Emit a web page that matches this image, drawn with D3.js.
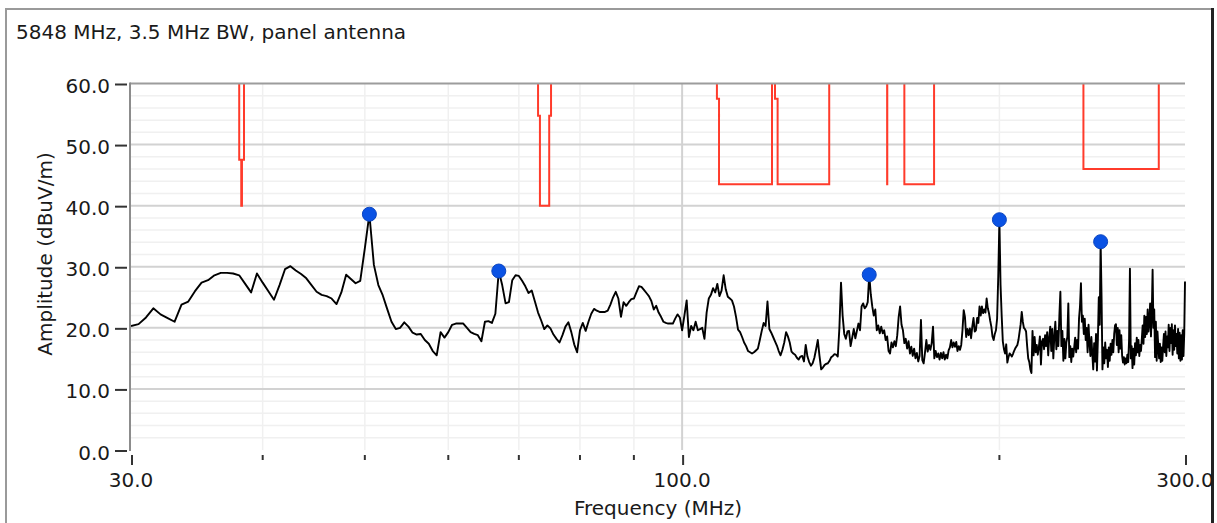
<!DOCTYPE html>
<html>
<head>
<meta charset="utf-8">
<script src="https://cdn.jsdelivr.net/npm/d3@7"></script>
<style>
  html, body { margin: 0; padding: 0; background: #ffffff; }
  svg { display: block; }
  text { font-family: "DejaVu Sans", Verdana, sans-serif; fill: #1a1a1a; }
</style>
</head>
<body>
<svg id="chart" width="1217" height="523"></svg>
<script>
// ---- Labels ----
const titleText = "5848 MHz, 3.5 MHz BW, panel antenna";
const xTitle = "Frequency (MHz)";
const yTitle = "Amplitude (dBuV/m)";

// ---- Axis ticks ----
const xMajorTicks = [30, 100, 300];
const xMajorLabels = ["30.0", "100.0", "300.0"];
const xMinorTicks = [40, 50, 60, 70, 80, 90, 200];
const yTicks = [0, 10, 20, 30, 40, 50, 60];
const yTickLabels = ["0.0", "10.0", "20.0", "30.0", "40.0", "50.0", "60.0"];
const yMinorStep = 2;

// ---- Measured sweep (dBuV/m), 0.5 MHz per point, one row per 10 MHz ----
const sweepStep = 0.5;
const traceRowStart = [30, 40, 50, 60, 70, 80, 90, 100, 110, 120, 130, 140, 150, 160, 170, 180,
                       190, 200, 210, 220, 230, 240, 250, 260, 270, 280, 290];
const traceRows = [
  [20.3, 20.6, 21.7, 23.2, 22.2, 21.6, 21.0, 23.8, 24.3, 26.0, 27.4, 27.8, 28.6, 29.0, 29.0, 28.9, 28.6, 27.2, 25.8, 28.9],
  [27.4, 26.0, 24.6, 27.0, 29.6, 30.1, 29.4, 28.8, 28.1, 27.0, 25.9, 25.4, 25.2, 24.8, 23.9, 25.8, 28.7, 28.0, 27.3, 27.7],
  [33.0, 38.6, 30.3, 27.0, 25.3, 23.1, 21.0, 19.8, 20.0, 20.9, 20.2, 19.2, 18.9, 19.0, 18.0, 17.4, 16.2, 15.5, 19.3, 18.4],
  [19.3, 20.5, 20.7, 20.7, 20.7, 20.0, 19.3, 19.0, 18.8, 17.8, 21.0, 21.1, 20.8, 22.3, 29.3, 27.0, 24.0, 24.2, 27.8, 28.6],
  [28.5, 27.7, 26.8, 25.7, 26.1, 24.3, 22.5, 21.2, 19.8, 20.4, 19.9, 18.9, 18.2, 17.6, 18.8, 20.2, 20.9, 19.3, 17.3, 16.0],
  [19.6, 20.8, 19.5, 21.0, 22.3, 23.1, 22.8, 22.6, 22.6, 22.6, 22.8, 23.8, 25.0, 25.9, 24.8, 21.8, 24.2, 23.6, 24.2, 24.7],
  [24.8, 25.8, 26.8, 26.7, 26.2, 25.7, 25.2, 24.4, 23.0, 23.6, 22.5, 21.8, 21.0, 20.8, 20.7, 20.7, 20.7, 21.5, 22.2, 21.7],
  [19.6, 22.0, 24.5, 18.5, 20.3, 19.6, 21.0, 19.6, 19.8, 20.0, 18.2, 22.5, 24.8, 25.4, 26.5, 25.8, 27.2, 25.2, 26.1, 28.6],
  [26.3, 25.1, 24.8, 24.5, 23.5, 21.8, 19.7, 19.3, 18.5, 17.6, 17.0, 16.2, 16.0, 15.8, 16.0, 16.3, 16.6, 18.0, 19.5, 20.8],
  [20.3, 24.3, 19.8, 19.2, 18.5, 17.8, 17.1, 16.2, 15.5, 16.4, 17.6, 19.3, 18.6, 17.6, 16.1, 15.8, 15.6, 15.1, 14.8, 15.3],
  [15.4, 14.5, 17.2, 15.3, 14.4, 13.8, 14.2, 15.1, 16.5, 18.0, 15.4, 13.2, 13.5, 13.9, 14.1, 14.2, 14.6, 15.2, 15.4, 15.7],
  [15.6, 15.3, 20.0, 27.4, 22.0, 19.0, 18.2, 19.4, 19.5, 17.0, 18.4, 19.8, 18.3, 19.5, 20.7, 19.6, 23.5, 24.0, 23.2, 23.5],
  [24.2, 28.7, 25.5, 23.5, 22.0, 23.0, 19.6, 20.4, 19.1, 20.2, 19.1, 19.6, 18.0, 18.6, 16.2, 15.8, 17.6, 16.8, 17.8, 17.0],
  [18.8, 21.8, 23.5, 20.5, 19.6, 17.5, 18.2, 16.6, 17.8, 15.8, 16.9, 15.4, 16.6, 15.0, 15.9, 14.5, 15.4, 21.3, 14.7, 14.2],
  [16.0, 18.0, 16.1, 17.2, 16.4, 17.5, 20.2, 15.0, 16.2, 15.2, 15.8, 14.8, 15.9, 15.0, 16.0, 14.8, 15.6, 15.0, 16.3, 16.8],
  [18.0, 16.8, 17.6, 16.9, 17.7, 16.2, 17.0, 16.4, 17.2, 19.6, 22.9, 21.8, 18.5, 19.8, 18.8, 19.9, 18.3, 20.2, 21.6, 19.4],
  [19.6, 21.6, 20.8, 23.5, 22.0, 23.5, 22.4, 23.0, 22.5, 24.8, 23.2, 22.4, 21.2, 20.2, 18.6, 18.0, 19.0, 19.6, 21.5, 28.4],
  [37.7, 27.0, 22.0, 17.8, 16.5, 15.8, 17.3, 14.3, 15.2, 15.8, 15.6, 15.3, 15.7, 16.2, 16.6, 16.9, 17.2, 18.0, 19.3, 20.6],
  [22.6, 21.0, 20.0, 19.8, 19.4, 17.0, 15.0, 14.4, 13.2, 12.6, 19.5, 15.5, 18.5, 16.0, 17.2, 15.6, 16.8, 18.6, 14.0, 17.8],
  [18.2, 16.5, 18.8, 17.0, 19.3, 15.5, 18.4, 20.2, 16.2, 19.8, 15.0, 18.6, 21.0, 16.5, 19.5, 17.0, 22.0, 25.9, 17.0, 19.5],
  [14.6, 18.2, 15.0, 17.6, 18.5, 24.0, 15.2, 17.0, 14.4, 16.6, 15.3, 16.8, 18.4, 16.0, 18.0, 16.6, 21.5, 23.5, 27.3, 21.0],
  [22.0, 19.0, 21.5, 18.0, 20.0, 16.0, 20.5, 17.5, 15.4, 18.5, 15.8, 13.2, 17.5, 14.5, 19.0, 13.0, 18.0, 25.0, 20.5, 34.1],
  [25.2, 13.2, 16.8, 14.2, 17.6, 15.0, 16.4, 13.6, 16.8, 14.6, 17.4, 15.6, 18.0, 16.0, 19.0, 20.4, 20.6, 17.2, 20.0, 16.0],
  [19.6, 16.6, 18.8, 15.4, 14.3, 15.2, 14.0, 15.0, 14.2, 15.6, 14.4, 18.0, 29.7, 15.0, 17.0, 13.4, 16.6, 14.0, 17.5, 15.5],
  [18.4, 16.0, 18.0, 15.4, 17.2, 16.2, 18.2, 20.4, 17.4, 22.0, 18.5, 21.8, 19.0, 23.0, 19.4, 21.0, 24.0, 18.6, 22.4, 29.5],
  [20.0, 23.0, 15.2, 21.0, 14.6, 19.4, 17.0, 15.0, 17.4, 14.4, 16.8, 14.6, 17.0, 19.0, 16.0, 19.4, 15.4, 18.6, 16.8, 20.5],
  [16.2, 20.0, 17.5, 20.6, 15.6, 19.6, 16.4, 20.4, 17.0, 19.0, 15.8, 19.8, 15.0, 19.2, 14.6, 18.8, 14.8, 19.6, 15.4, 19.0, 27.6]
];

// ---- Limit line (dBuV/m); 80 = above the displayed range ----
const limitFreq  = [30, 38.0, 38.0, 38.17, 38.17, 38.23, 38.23, 38.4, 38.4,
                    73.0, 73.0, 73.3, 73.3, 74.8, 74.8, 75.1, 75.1,
                    107.9, 107.9, 108.4, 108.4, 121.7, 121.7,
                    122.5, 122.5, 123.2, 123.2, 137.9, 137.9,
                    156.50, 156.50, 156.55, 156.55,
                    162.5, 162.5, 173.4, 173.4,
                    240.3, 240.3, 283.3, 283.3, 300];
const limitLevel = [80, 80, 47.5, 47.5, 40, 40, 47.5, 47.5, 80,
                    80, 54.7, 54.7, 40, 40, 54.7, 54.7, 80,
                    80, 57.5, 57.5, 43.5, 43.5, 80,
                    80, 57.5, 57.5, 43.5, 43.5, 80,
                    80, 43.5, 43.5, 80,
                    80, 43.5, 43.5, 80,
                    80, 46, 46, 80, 80];

// ---- Peak markers ----
const peakFreq  = [50.5, 67.0, 150.5, 200.0, 249.5];
const peakLevel = [38.6, 29.3, 28.7, 37.7, 34.1];

// ---- Scales ----
const plot = { left: 131, right: 1185, top: 83.5, bottom: 450 };
const x = d3.scaleLog().domain([30, 300]).range([plot.left, plot.right]);
const y = d3.scaleLinear().domain([0, 60]).range([plot.bottom, plot.top]);

const svg = d3.select("#chart");

// Outer panel frame
svg.append("line").attr("x1", 6).attr("x2", 6).attr("y1", 9).attr("y2", 523)
  .attr("stroke", "#9a9a9a").attr("stroke-width", 2);
svg.append("line").attr("x1", 5).attr("x2", 1213).attr("y1", 9).attr("y2", 9)
  .attr("stroke", "#9a9a9a").attr("stroke-width", 2);
svg.append("line").attr("x1", 1212.5).attr("x2", 1212.5).attr("y1", 8).attr("y2", 523)
  .attr("stroke", "#222222").attr("stroke-width", 3);

// Title
svg.append("text").attr("x", 16).attr("y", 39).attr("font-size", 20).text(titleText);

// Minor gridlines
const yMinor = d3.range(0, 60, yMinorStep).filter(v => v % 10 !== 0);
svg.append("g").selectAll("line").data(yMinor).join("line")
  .attr("x1", plot.left).attr("x2", plot.right)
  .attr("y1", d => y(d)).attr("y2", d => y(d))
  .attr("stroke", "#f0f0f0").attr("stroke-width", 1.5);
svg.append("g").selectAll("line").data(xMinorTicks).join("line")
  .attr("x1", d => x(d)).attr("x2", d => x(d))
  .attr("y1", plot.top).attr("y2", plot.bottom)
  .attr("stroke", "#f0f0f0").attr("stroke-width", 1.5);

// Major gridlines
svg.append("g").selectAll("line").data(yTicks.filter(v => v > 0 && v < 60)).join("line")
  .attr("x1", plot.left).attr("x2", plot.right)
  .attr("y1", d => y(d)).attr("y2", d => y(d))
  .attr("stroke", "#d2d2d2").attr("stroke-width", 2);
svg.append("line")
  .attr("x1", x(100)).attr("x2", x(100)).attr("y1", plot.top).attr("y2", plot.bottom)
  .attr("stroke", "#d2d2d2").attr("stroke-width", 2);

// Clip region for plotted data
svg.append("clipPath").attr("id", "plotClip").append("rect")
  .attr("x", plot.left).attr("y", plot.top)
  .attr("width", plot.right - plot.left + 2).attr("height", plot.bottom - plot.top);

// Limit line
const limitData = limitFreq.map((f, i) => ({ f, v: limitLevel[i] }));
svg.append("path").datum(limitData)
  .attr("clip-path", "url(#plotClip)")
  .attr("fill", "none").attr("stroke", "#ff3b2b").attr("stroke-width", 2)
  .attr("d", d3.line().x(d => x(d.f)).y(d => y(d.v)));

// Top edge and left axis line
svg.append("line").attr("x1", plot.left - 1).attr("x2", plot.right)
  .attr("y1", y(60)).attr("y2", y(60)).attr("stroke", "#9c9c9c").attr("stroke-width", 2);
svg.append("line").attr("x1", plot.left - 1).attr("x2", plot.left - 1)
  .attr("y1", y(60) - 1).attr("y2", y(0) + 1).attr("stroke", "#8c8c8c").attr("stroke-width", 2);

// Measured trace
const traceData = [];
traceRows.forEach((row, r) => {
  row.forEach((v, j) => traceData.push({ f: traceRowStart[r] + j * sweepStep, v }));
});
svg.append("path").datum(traceData)
  .attr("clip-path", "url(#plotClip)")
  .attr("fill", "none").attr("stroke", "#000000").attr("stroke-width", 1.9)
  .attr("stroke-linejoin", "round")
  .attr("d", d3.line().x(d => x(d.f)).y(d => y(d.v)));

// Peak markers
svg.append("g").selectAll("circle").data(peakFreq).join("circle")
  .attr("cx", d => x(d)).attr("cy", (d, i) => y(peakLevel[i]))
  .attr("r", 7).attr("fill", "#0a52e4").attr("stroke", "#0b45c0").attr("stroke-width", 1);

// Y axis ticks and labels
const yAxis = svg.append("g");
yAxis.selectAll("line").data(yTicks).join("line")
  .attr("x1", 115).attr("x2", 127)
  .attr("y1", d => y(d) + 1).attr("y2", d => y(d) + 1)
  .attr("stroke", "#333333").attr("stroke-width", 2);
yAxis.selectAll("text").data(yTicks).join("text")
  .attr("x", 110).attr("y", d => y(d) + 9.5)
  .attr("text-anchor", "end").attr("font-size", 20)
  .text((d, i) => yTickLabels[i]);

// X axis ticks and labels
const xAxis = svg.append("g");
xAxis.selectAll("line.major").data(xMajorTicks).join("line").attr("class", "major")
  .attr("x1", d => x(d) + 1).attr("x2", d => x(d) + 1)
  .attr("y1", 455).attr("y2", 465)
  .attr("stroke", "#333333").attr("stroke-width", 2);
xAxis.selectAll("line.minor").data(xMinorTicks).join("line").attr("class", "minor")
  .attr("x1", d => x(d)).attr("x2", d => x(d))
  .attr("y1", 455).attr("y2", 460)
  .attr("stroke", "#333333").attr("stroke-width", 2);
xAxis.selectAll("text").data(xMajorTicks).join("text")
  .attr("x", d => x(d)).attr("y", 487)
  .attr("text-anchor", "middle").attr("font-size", 20)
  .text((d, i) => xMajorLabels[i]);

// Axis titles
svg.append("text")
  .attr("x", (plot.left + plot.right) / 2).attr("y", 515)
  .attr("text-anchor", "middle").attr("font-size", 20)
  .text(xTitle);
svg.append("text")
  .attr("transform", "translate(51.5,254) rotate(-90)")
  .attr("text-anchor", "middle").attr("font-size", 20)
  .text(yTitle);
</script>
</body>
</html>
